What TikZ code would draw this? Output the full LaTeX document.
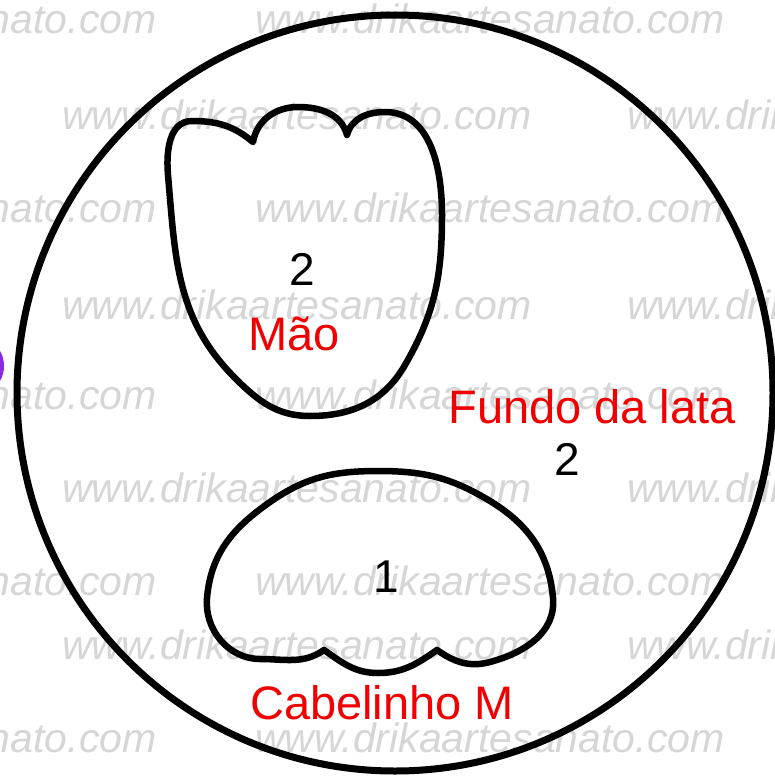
\documentclass[tikz,border=0pt]{standalone}
\usepackage{fontspec}
\setmainfont{Liberation Sans}
\newfontfamily\wmfont{Liberation Sans}
\definecolor{wmgray}{HTML}{D6D6D6}
\definecolor{lblred}{HTML}{F00000}
\definecolor{blobpurple}{HTML}{8A2BE2}
\tikzset{
  outline/.style={draw=black, line width=6.5pt, line join=round},
  wm/.style={anchor=base west, inner sep=0pt, text=wmgray, font=\wmfont\itshape\fontsize{41}{41}\selectfont},
  redlbl/.style={anchor=base, inner sep=0pt, text=lblred, font=\fontsize{47}{47}\selectfont},
  numlbl/.style={anchor=base, inner sep=0pt, text=black, font=\fontsize{46}{46}\selectfont}
}
\begin{document}
\begin{tikzpicture}[x=1pt,y=-1pt]
\useasboundingbox (0,0) rectangle (775,776);
\fill[white] (0,0) rectangle (775,776);
% watermark rows (type A)
\foreach \yy/\nm in {34/a1,222/a2,409/a3,595/a4,752/a5}{
  \node[wm] (wm\nm l) at (-313,\yy) {www.drikaartesanato.com};
  \node[wm] (wm\nm r) at (255,\yy) {www.drikaartesanato.com};
}
% watermark rows (type B)
\foreach \yy/\nm in {129/b1,319/b2,502/b3,659/b4}{
  \node[wm] (wm\nm l) at (62,\yy) {www.drikaartesanato.com};
  \node[wm] (wm\nm r) at (627,\yy) {www.drikaartesanato.com};
}
% purple blob at left edge
\fill[blobpurple] (-8,366) ellipse [x radius=12, y radius=20];
% outer circle
\draw[outline, line width=7pt] (395,393) circle [radius=378];
% Mao shape
\draw[outline]
  (253,142) to[out=80,in=180] (298,107)
  to[out=0,in=105] (347,135)
  to[out=75,in=180] (385,112)
  to[out=0,in=90] (442,215)
  to[out=-90,in=60] (405,365)
  to[out=240,in=0] (310,416)
  to[out=180,in=-45] (235,378)
  to[out=135,in=-85] (168,175)
  to[out=95,in=180] (192,121)
  to[out=0,in=140] cycle;
% Cabelinho shape
\draw[outline]
  (207,598) to[out=85,in=215] (270,502)
  to[out=35,in=180] (378,471)
  to[out=0,in=150] (485,498)
  to[out=-30,in=95] (553,598)
  to[out=-85,in=15] (490,662)
  to[out=195,in=-35] (437,650)
  to[out=215,in=0] (378,673)
  to[out=180,in=-35] (324,650)
  to[out=215,in=0] (260,659)
  to[out=180,in=-95] cycle;
% labels
\node[numlbl] (n2a) at (302,285) {2};
\node[redlbl] (mao) at (294,350) {Mão};
\node[redlbl] (fundo) at (592,423) {Fundo da lata};
\node[numlbl] (n2b) at (567,475) {2};
\node[numlbl] (n1) at (386,592) {1};
\node[redlbl] (cab) at (382,719) {Cabelinho M};
\end{tikzpicture}
\end{document}
